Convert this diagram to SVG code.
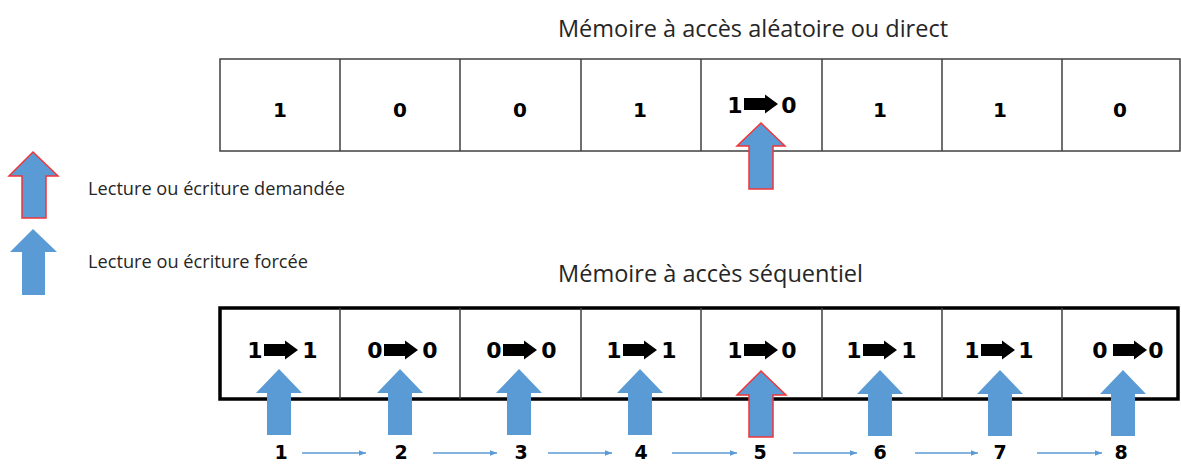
<svg xmlns="http://www.w3.org/2000/svg" width="1181" height="464" viewBox="0 0 1181 464">
<style>
.title{font-family:"Open Sans","Liberation Sans",sans-serif;font-size:24px;fill:#262626}
.leg{font-family:"Open Sans","Liberation Sans",sans-serif;font-size:17.5px;fill:#262626}
.d{font-family:"DejaVu Sans","Liberation Sans",sans-serif;font-weight:bold;fill:#000;text-anchor:middle}
.d18{font-size:20px}
.d22{font-size:22px}
.d20{font-size:19px}
.cell{fill:#fff;stroke:#404040;stroke-width:1.5}
.div{stroke:#404040;stroke-width:1.5}
.up{fill:#5b9bd5;stroke:none}
.upr{fill:#5b9bd5;stroke:#f0363a;stroke-width:1.5}
.flow{stroke:#5b9bd5;stroke-width:1.3;fill:none;marker-end:url(#ah)}
</style>
<defs>
<path id="blk" d="M0,-6 H21 V-9.5 L34,0 L21,9.5 V6 H0 Z" fill="#000"/>
<marker id="ah" viewBox="0 0 10 10" refX="10" refY="5" markerWidth="7" markerHeight="7" markerUnits="userSpaceOnUse" orient="auto">
<path d="M0,1 L10,5 L0,9 Z" fill="#5b9bd5"/>
</marker>
</defs>
<rect width="1181" height="464" fill="#fff"/>

<g id="title-random"><text class="title" x="558" y="37" textLength="390" lengthAdjust="spacingAndGlyphs">Mémoire à accès aléatoire ou direct</text></g>
<g id="title-seq"><text class="title" x="558" y="282" textLength="305" lengthAdjust="spacingAndGlyphs">Mémoire à accès séquentiel</text></g>

<g id="legend-requested">
<path class="upr" d="M33,152 L58,176 L46,176 L46,218 L22,218 L22,176 L9,176 Z"/>
<text class="leg" x="88" y="195" textLength="257" lengthAdjust="spacingAndGlyphs">Lecture ou écriture demandée</text>
</g>
<g id="legend-forced">
<path class="up" d="M33,229 L57,252 L45,252 L45,295 L22,295 L22,252 L10,252 Z"/>
<text class="leg" x="88" y="268" textLength="220" lengthAdjust="spacingAndGlyphs">Lecture ou écriture forcée</text>
</g>

<g id="random-memory">
<rect class="cell" x="220" y="59" width="960" height="92"/>
<path class="div" d="M340,59V151 M460,59V151 M581,59V151 M701,59V151 M822,59V151 M942,59V151 M1062,59V151"/>
<text class="d d18" x="280" y="117">1</text>
<text class="d d18" x="400" y="117">0</text>
<text class="d d18" x="520" y="117">0</text>
<text class="d d18" x="640" y="117">1</text>
<g id="random-cell5">
<text class="d d22" x="735" y="113">1</text>
<use href="#blk" x="744" y="104"/>
<text class="d d22" x="789" y="113">0</text>
</g>
<text class="d d18" x="880" y="117">1</text>
<text class="d d18" x="1000" y="117">1</text>
<text class="d d18" x="1120" y="117">0</text>
<path id="random-access-arrow" class="upr" d="M761,123 L785,146 L773,146 L773,189 L749,189 L749,146 L737,146 Z"/>
</g>

<g id="sequential-memory">
<rect x="220" y="308" width="958" height="91" fill="#fff" stroke="#000" stroke-width="3.5"/>
<path class="div" d="M340,308V399 M460,308V399 M581,308V399 M701,308V399 M822,308V399 M942,308V399 M1062,308V399"/>
<g id="seq-cell1"><text class="d d22" x="255" y="358">1</text><use href="#blk" x="264" y="350"/><text class="d d22" x="310" y="358">1</text></g>
<g id="seq-cell2"><text class="d d22" x="375" y="358">0</text><use href="#blk" x="384" y="350"/><text class="d d22" x="430" y="358">0</text></g>
<g id="seq-cell3"><text class="d d22" x="494" y="358">0</text><use href="#blk" x="503" y="350"/><text class="d d22" x="549" y="358">0</text></g>
<g id="seq-cell4"><text class="d d22" x="614" y="358">1</text><use href="#blk" x="623" y="350"/><text class="d d22" x="669" y="358">1</text></g>
<g id="seq-cell5"><text class="d d22" x="735" y="358">1</text><use href="#blk" x="744" y="350"/><text class="d d22" x="789" y="358">0</text></g>
<g id="seq-cell6"><text class="d d22" x="854" y="358">1</text><use href="#blk" x="863" y="350"/><text class="d d22" x="909" y="358">1</text></g>
<g id="seq-cell7"><text class="d d22" x="972" y="358">1</text><use href="#blk" x="981" y="350"/><text class="d d22" x="1026" y="358">1</text></g>
<g id="seq-cell8"><text class="d d22" x="1100" y="358">0</text><use href="#blk" x="1113" y="350"/><text class="d d22" x="1156" y="358">0</text></g>
</g>

<g id="seq-access-arrows">
<path class="up" d="M279,369 L302,393 L291,393 L291,435 L267,435 L267,393 L256,393 Z"/>
<path class="up" d="M400,369 L423,393 L412,393 L412,435 L388,435 L388,393 L377,393 Z"/>
<path class="up" d="M519,369 L542,393 L531,393 L531,435 L507,435 L507,393 L496,393 Z"/>
<path class="up" d="M640,369 L663,393 L652,393 L652,435 L628,435 L628,393 L617,393 Z"/>
<path class="upr" d="M761,371 L786,395 L773,395 L773,437 L749,437 L749,395 L737,395 Z"/>
<path class="up" d="M880,370 L903,394 L892,394 L892,436 L868,436 L868,394 L857,394 Z"/>
<path class="up" d="M1000,370 L1023,394 L1012,394 L1012,436 L988,436 L988,394 L977,394 Z"/>
<path class="up" d="M1123,370 L1146,394 L1135,394 L1135,436 L1111,436 L1111,394 L1100,394 Z"/>
</g>

<g id="steps">
<text class="d d20" x="281" y="459">1</text>
<text class="d d20" x="401" y="459">2</text>
<text class="d d20" x="521" y="459">3</text>
<text class="d d20" x="641" y="459">4</text>
<text class="d d20" x="760" y="459">5</text>
<text class="d d20" x="880" y="459">6</text>
<text class="d d20" x="1000" y="459">7</text>
<text class="d d20" x="1121" y="459">8</text>
</g>

<g id="connectors">
<line class="flow" x1="302" y1="453" x2="366" y2="453"/>
<line class="flow" x1="433" y1="453" x2="497" y2="453"/>
<line class="flow" x1="548" y1="453" x2="612" y2="453"/>
<line class="flow" x1="672" y1="453" x2="737" y2="453"/>
<line class="flow" x1="793" y1="453" x2="857" y2="453"/>
<line class="flow" x1="915" y1="453" x2="978" y2="453"/>
<line class="flow" x1="1037" y1="453" x2="1102" y2="453"/>
</g>
</svg>
